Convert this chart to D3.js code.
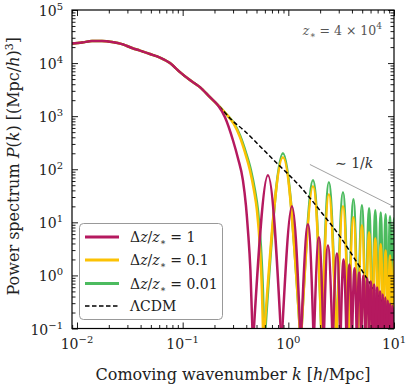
<!DOCTYPE html>
<html>
<head>
<meta charset="utf-8">
<script src="https://cdnjs.cloudflare.com/ajax/libs/d3/7.8.5/d3.min.js"></script>
<style>
  html, body { margin: 0; padding: 0; background: #fff; }
  svg { display: block; font-family: 'DejaVu Serif', serif; }
</style>
</head>
<body>
<div id="chart"></div>
<script>
// low-k part shared by all curves (and LCDM)
const baseK = [0.00897, 0.01115, 0.01387, 0.01724, 0.02143, 0.02665, 0.03314, 0.03945,
    0.04905, 0.06099, 0.07583, 0.0943, 0.1172, 0.1457, 0.1812, 0.2254];
const baseP = [23300, 24400, 26000, 26000, 24900, 22800, 19200, 17200,
    14800, 12700, 10000, 6760, 4780, 3520, 2280, 1480];

// LCDM continuation
const lcdmK = [0.2927, 0.388, 0.538, 0.78, 1.288, 2.125, 3.076, 4.456, 6.53, 10];
const lcdmP = [841, 521, 272, 130, 47.8, 14.2, 5.44, 1.76, 0.521, 0.155];

// dz/z* = 1
const magDropK = [0.2158, 0.2514, 0.2992, 0.3337, 0.3719, 0.397, 0.4148, 0.4379];
const magDropP = [1600, 957, 352, 161, 61.9, 20.9, 7.07, 1.24];
const magPeakK = [0.641, 1.082, 1.532, 1.946, 2.371, 2.884, 3.33, 3.78, 4.23, 4.68, 5.13,
    5.58, 6.03, 6.48, 6.93, 7.38, 7.83, 8.28, 8.73, 9.18, 9.63, 10.08];
const magPeakP = [77.1, 20.0, 9.16, 5.21, 3.68, 2.6, 2.0, 1.61, 1.36, 1.14, 1.0,
    0.878, 0.77, 0.676, 0.594, 0.499, 0.438, 0.385, 0.338, 0.296, 0.272, 0.249];
const magZeroK = [0.4624, 0.862, 1.31, 1.74, 2.16, 2.63, 3.11, 3.56, 4.0, 4.45, 4.9, 5.35,
    5.8, 6.25, 6.7, 7.15, 7.6, 8.05, 8.5, 8.95, 9.4, 9.85, 10.3];

// dz/z* = 0.1
const yelDropK = [0.2624, 0.3057, 0.3483, 0.3882, 0.433, 0.4727, 0.5046, 0.5387, 0.5625];
const yelDropP = [1060, 706, 402, 209, 95.8, 40.2, 16.8, 3.37, 0.521];
const yelZeroK = [0.581, 1.31, 2.07, 2.85, 3.71, 4.55, 5.39, 6.23, 7.07, 7.91, 8.75, 9.59, 10.43];
const yelPeakP = [168, 47.7, 33.7, 20.0, 12.4, 8.77, 6.47, 4.99, 3.85, 2.96, 2.38, 1.92];

// dz/z* = 0.01
const grnDropK = [0.2624, 0.3057, 0.3483, 0.3962, 0.4426, 0.4832, 0.5158, 0.5506, 0.575];
const grnDropP = [1060, 738, 438, 209, 95.8, 40.2, 16.8, 3.37, 0.521];
const grnZeroK = [0.594, 1.31, 2.07, 2.85, 3.71, 4.55, 5.39, 6.23, 7.07, 7.91, 8.75, 9.59, 10.43];
const grnPeakP = [200, 61.9, 56.9, 36.8, 27.2, 20.9, 18.4, 16.8, 15.4, 14.2, 13.0, 11.9];

// peaks of the 0.1 and 0.01 curves sit at the same k
const narrowPeakK = [0.889, 1.71, 2.42, 3.29, 4.13, 4.97, 5.81, 6.65, 7.49, 8.33, 9.17, 10.01];

// ~1/k guide
const guideK = [1.6, 10];
const guideP = [123, 19.7];

const xMajor = [0.01, 0.1, 1, 10];
const yMajor = [0.1, 1, 10, 100, 1e3, 1e4, 1e5];

const FLOOR = 0.05; // value used for the zeros of |oscillation|, below the axis

const colors = { mag: '#b5195f', yel: '#fcc204', grn: '#4cbb5f' };

const width = 409, height = 384;
const margin = { left: 72, right: 15, top: 10, bottom: 55.5 };

const svg = d3.select('#chart').append('svg')
    .attr('width', width)
    .attr('height', height);

const x = d3.scaleLog().domain([0.00897, 10]).range([margin.left, width - margin.right]);
const y = d3.scaleLog().domain([0.1, 1e5]).range([height - margin.bottom, margin.top]);

svg.append('clipPath').attr('id', 'plot-clip')
    .append('rect')
    .attr('x', margin.left).attr('y', margin.top)
    .attr('width', width - margin.left - margin.right)
    .attr('height', height - margin.top - margin.bottom);

const plot = svg.append('g').attr('clip-path', 'url(#plot-clip)');

const smoothLine = d3.line()
    .x((d) => x(d[0])).y((d) => y(d[1]))
    .curve(d3.curveMonotoneX);
const archLine = d3.line()
    .x((d) => x(d[0])).y((d) => y(d[1]))
    .curve(d3.curveNatural);

const zip = (ks, ps) => ks.map((k, i) => [k, ps[i]]);

function drawSeries(color, lastBaseIndex, dropK, dropP, peakK, peakP, zeroK) {
    const g = plot.append('g')
        .attr('fill', 'none')
        .attr('stroke', color)
        .attr('stroke-width', 2.5)
        .attr('stroke-linejoin', 'round');
    const descent = zip(baseK.slice(0, lastBaseIndex + 1), baseP)
        .concat(zip(dropK, dropP))
        .concat([[zeroK[0], FLOOR]]);
    g.append('path').attr('d', smoothLine(descent));
    const arches = peakK.map((k, i) => [
        [zeroK[i], FLOOR], [k, peakP[i]], [zeroK[i + 1], FLOOR]
    ]);
    g.selectAll('path.arch')
        .data(arches)
        .join('path')
        .attr('class', 'arch')
        .attr('d', (d) => archLine(d));
}

// drawing order: 0.01, 0.1, LCDM, 1
drawSeries(colors.grn, 15, grnDropK, grnDropP, narrowPeakK, grnPeakP, grnZeroK);
drawSeries(colors.yel, 15, yelDropK, yelDropP, narrowPeakK, yelPeakP, yelZeroK);

plot.append('path')
    .attr('d', smoothLine(zip(baseK, baseP).concat(zip(lcdmK, lcdmP))))
    .attr('fill', 'none')
    .attr('stroke', '#000')
    .attr('stroke-width', 1.5)
    .attr('stroke-dasharray', '4.5,2.5');

drawSeries(colors.mag, 14, magDropK, magDropP, magPeakK, magPeakP, magZeroK);

// ~1/k guide
plot.append('path')
    .attr('d', d3.line().x((d) => x(d[0])).y((d) => y(d[1]))(zip(guideK, guideP)))
    .attr('stroke', '#888')
    .attr('stroke-width', 0.8)
    .attr('fill', 'none');

// ticks (inward, all four sides)
const minorTicks = (lo, hi) => {
    const out = [];
    for (let e = Math.floor(Math.log10(lo)); e <= Math.ceil(Math.log10(hi)); e++) {
        for (let m = 2; m <= 9; m++) {
            const v = m * Math.pow(10, e);
            if (v > lo && v < hi) out.push(v);
        }
    }
    return out;
};
const xMinor = minorTicks(x.domain()[0], x.domain()[1]);
const yMinor = minorTicks(y.domain()[0], y.domain()[1]);

const plotW = width - margin.left - margin.right;
const plotH = height - margin.top - margin.bottom;

function addAxis(axisFn, scale, values, size, transform) {
    const g = svg.append('g')
        .attr('transform', transform)
        .call(axisFn(scale).tickValues(values).tickSize(size).tickSizeOuter(0).tickFormat(''));
    g.select('.domain').remove();
    g.selectAll('line').attr('stroke', '#000').attr('stroke-width', 0.9);
}
const bottomY = height - margin.bottom;
const rightX = width - margin.right;
addAxis(d3.axisBottom, x, xMajor, -6, `translate(0,${bottomY})`);
addAxis(d3.axisBottom, x, xMinor, -3.5, `translate(0,${bottomY})`);
addAxis(d3.axisTop, x, xMajor, -6, `translate(0,${margin.top})`);
addAxis(d3.axisTop, x, xMinor, -3.5, `translate(0,${margin.top})`);
addAxis(d3.axisLeft, y, yMajor, -6, `translate(${margin.left},0)`);
addAxis(d3.axisLeft, y, yMinor, -3.5, `translate(${margin.left},0)`);
addAxis(d3.axisRight, y, yMajor, -6, `translate(${rightX},0)`);
addAxis(d3.axisRight, y, yMinor, -3.5, `translate(${rightX},0)`);

svg.append('rect')
    .attr('x', margin.left).attr('y', margin.top)
    .attr('width', plotW).attr('height', plotH)
    .attr('fill', 'none')
    .attr('stroke', '#000')
    .attr('stroke-width', 1.2);

// tick labels as 10^n
const expLabel = (sel) => {
    sel.append('tspan').text('10');
    sel.append('tspan')
        .attr('dy', -6)
        .attr('font-size', 10)
        .text((d) => {
            const e = Math.round(Math.log10(d));
            return e < 0 ? '\u2212' + (-e) : String(e);
        });
};
svg.append('g')
    .selectAll('text')
    .data(xMajor)
    .join('text')
    .attr('x', (d) => x(d))
    .attr('y', bottomY + 20)
    .attr('text-anchor', 'middle')
    .attr('font-size', 14)
    .attr('fill', '#222')
    .call(expLabel);
svg.append('g')
    .selectAll('text')
    .data(yMajor)
    .join('text')
    .attr('x', margin.left - 9)
    .attr('y', (d) => y(d) + 6)
    .attr('text-anchor', 'end')
    .attr('font-size', 14)
    .attr('fill', '#222')
    .call(expLabel);

// axis labels
const xLabel = svg.append('text')
    .attr('x', (margin.left + rightX) / 2)
    .attr('y', 380)
    .attr('text-anchor', 'middle')
    .attr('font-size', 16)
    .attr('fill', '#222');
xLabel.append('tspan').text('Comoving wavenumber ');
xLabel.append('tspan').attr('font-style', 'italic').text('k');
xLabel.append('tspan').text(' [');
xLabel.append('tspan').attr('font-style', 'italic').text('h');
xLabel.append('tspan').text('/Mpc]');

const yLabel = svg.append('text')
    .attr('transform', `translate(19,${(margin.top + bottomY) / 2 - 3}) rotate(-90)`)
    .attr('text-anchor', 'middle')
    .attr('font-size', 16)
    .attr('fill', '#222');
yLabel.append('tspan').text('Power spectrum ');
yLabel.append('tspan').attr('font-style', 'italic').text('P');
yLabel.append('tspan').text('(');
yLabel.append('tspan').attr('font-style', 'italic').text('k');
yLabel.append('tspan').text(') [(Mpc/');
yLabel.append('tspan').attr('font-style', 'italic').text('h');
yLabel.append('tspan').text(')');
yLabel.append('tspan').attr('dy', -6).attr('font-size', 11).text('3');
yLabel.append('tspan').attr('dy', 6).text(']');

// annotations
const zNote = svg.append('text')
    .attr('x', 382).attr('y', 35)
    .attr('text-anchor', 'end')
    .attr('font-size', 12.5)
    .attr('fill', '#555');
zNote.append('tspan').attr('font-style', 'italic').text('z');
zNote.append('tspan').attr('dy', 3).attr('font-size', 9).text('\u2217');
zNote.append('tspan').attr('dy', -3).text(' = 4 \u00d7 10');
zNote.append('tspan').attr('dy', -6).attr('font-size', 9).text('4');

const slopeNote = svg.append('text')
    .attr('x', 335).attr('y', 168)
    .attr('font-size', 14)
    .attr('fill', '#333');
slopeNote.append('tspan').text('\u223c 1/');
slopeNote.append('tspan').attr('font-style', 'italic').text('k');

// legend
const legendItems = [
    { label: '1', color: colors.mag, dash: null },
    { label: '0.1', color: colors.yel, dash: null },
    { label: '0.01', color: colors.grn, dash: null },
    { label: null, color: '#000', dash: '4.5,2.5' }
];
const legend = svg.append('g');
legend.append('rect')
    .attr('x', 79.5).attr('y', 223.5)
    .attr('width', 143).attr('height', 96)
    .attr('rx', 4)
    .attr('fill', '#fff')
    .attr('fill-opacity', 0.85)
    .attr('stroke', '#999')
    .attr('stroke-width', 1);
const rows = legend.selectAll('g.row')
    .data(legendItems)
    .join('g')
    .attr('class', 'row')
    .attr('transform', (d, i) => `translate(0,${[237, 260, 283.5, 306][i]})`);
rows.append('line')
    .attr('x1', 85).attr('x2', 119)
    .attr('stroke', (d) => d.color)
    .attr('stroke-width', (d) => (d.dash ? 1.5 : 3))
    .attr('stroke-dasharray', (d) => d.dash);
rows.each(function (d) {
    const t = d3.select(this).append('text')
        .attr('x', 130).attr('y', 5)
        .attr('font-size', 14)
        .attr('fill', '#222');
    if (d.label === null) {
        t.text('\u039bCDM');
        return;
    }
    t.append('tspan').text('\u0394');
    t.append('tspan').attr('font-style', 'italic').text('z');
    t.append('tspan').text('/');
    t.append('tspan').attr('font-style', 'italic').text('z');
    t.append('tspan').attr('dy', 3).attr('font-size', 9).text('\u2217');
    t.append('tspan').attr('dy', -3).text(' = ' + d.label);
});
</script>
</body>
</html>
